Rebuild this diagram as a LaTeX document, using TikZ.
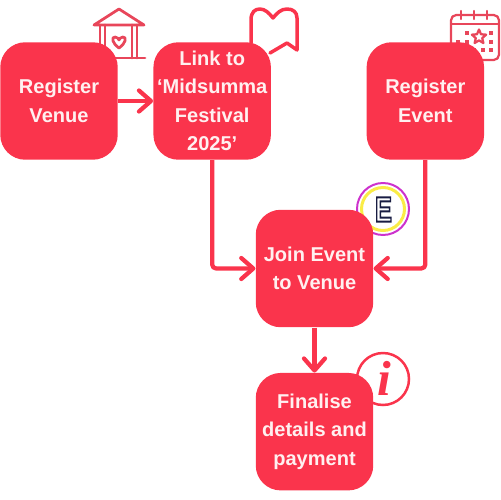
\documentclass[tikz,border=0pt]{standalone}
\usepackage{fontspec}
\setmainfont{Liberation Sans}
\newfontfamily\iconserif{Liberation Serif}
\definecolor{FestRed}{RGB}{250, 52, 76}
\definecolor{IconRed}{RGB}{232, 70, 90}
\definecolor{BadgeNavy}{RGB}{24, 28, 66}
\definecolor{BadgeYellow}{RGB}{250, 236, 70}
\definecolor{BadgePurple}{RGB}{205, 50, 205}
\definecolor{LabelWhite}{RGB}{255, 240, 240}
\usetikzlibrary{arrows.meta, positioning, shapes.geometric}
\tikzset{
  stepbox/.style={rectangle, rounded corners=0.5cm, fill=FestRed,
                  minimum width=2.35cm, minimum height=2.35cm, inner sep=0pt,
                  font=\fontsize{11.4}{16.2}\selectfont\bfseries, text=LabelWhite, align=center},
  arr/.style={-{Straight Barb[length=0.24cm, width=0.42cm, round]}, draw=FestRed,
              line width=0.085cm, line join=round, rounded corners=0.08cm},
  icon/.style={draw=IconRed, line width=0.045cm, line join=round, line cap=round},
  bookline/.style={icon, draw=FestRed, line width=0.07cm},
  dotbox/.style={rectangle, fill=IconRed, minimum size=0.08cm, inner sep=0pt},
}
\begin{document}
\begin{tikzpicture}[x=0.02cm, y=-0.02cm]

  \useasboundingbox (0,0) rectangle (500,500);

  %% HOUSE ICON
  \draw[icon, line width=0.055cm] (94,25) -- (119,9) -- (144,25) -- cycle;
  \draw[icon, line width=0.055cm] (100,25) -- (100,58) (105,25) -- (105,58)
              (132,25) -- (132,58) (137,25) -- (137,58) (105,58) -- (145,58);
  \draw[icon, line width=0.055cm] (119,48) .. controls (112,43) and (111,37) .. (115,37)
              .. controls (117,37) and (119,39) .. (119,40)
              .. controls (119,39) and (121,37) .. (123,37)
              .. controls (127,37) and (126,43) .. (119,48);

  %% BOOK ICON
  \draw[bookline] (251,43) -- (251,20) .. controls (251,12) and (255,9) .. (260,9)
        .. controls (265,9) and (269,13) .. (273,18)
        .. controls (277,13) and (281,9) .. (287,9)
        .. controls (293,9) and (297,12) .. (297,18)
        -- (297,50) -- (287,43) -- (270,53);

  %% CALENDAR ICON
  \draw[icon, rounded corners=3pt] (451,60) rectangle (499,15);
  \draw[icon] (451,24) -- (499,24);
  \foreach \x in {461,474,487} {
    \draw[icon] (\x,11) -- (\x,19);
  }
  \node[star, star points=5, star point ratio=2.2, minimum size=0.3cm, inner sep=0pt,
        icon] (calstar) at (479,37) {};
  \foreach \x/\y in {467/33, 491/33, 491/42, 491/50, 483/50, 474/50, 458/42, 467/42} {
    \node[dotbox] at (\x,\y) {};
  }

  %% EVENT BADGE
  \node[circle, draw=BadgePurple, line width=0.04cm, minimum size=1.04cm, inner sep=0pt]
       (ering) at (383,209) {};
  \node[circle, draw=BadgeYellow, line width=0.06cm, minimum size=0.86cm, inner sep=0pt]
       (eyellow) at (383,209) {};
  \node[font=\fontsize{20}{20}\selectfont\bfseries, text=BadgeNavy, xscale=0.72] (eletter) at (383.5,209.5)
       {\special{pdf:code 1 Tr 1.1 w}E\special{pdf:code 0 Tr 1 w}};

  %% INFO BADGE
  \node[circle, draw=FestRed, line width=0.05cm, minimum size=1.04cm, inner sep=0pt]
       (iring) at (383,379) {};
  \node[font=\iconserif\fontsize{28}{28}\selectfont\bfseries\itshape, text=FestRed]
       (iletter) at (384,378) {i};

  %% STEPS
  \node[stepbox] (venue) at (59,101) {Register\\Venue};
  \node[stepbox, right=0.7cm of venue] (link) {Link to\\‘Midsumma\\Festival\\2025’};
  \node[stepbox, right=1.9cm of link] (event) {Register\\Event};
  \node[stepbox] (join) at (314.5,268.5) {Join Event\\to Venue};
  \node[stepbox, below=0.9cm of join] (final) {Finalise\\details and\\payment};

  %% CONNECTORS
  \draw[arr] (venue) -- (link);
  \draw[arr] (link.south) |- (join.west);
  \draw[arr] (event.south) |- (join.east);
  \draw[arr] (join) -- (final);

\end{tikzpicture}
\end{document}
